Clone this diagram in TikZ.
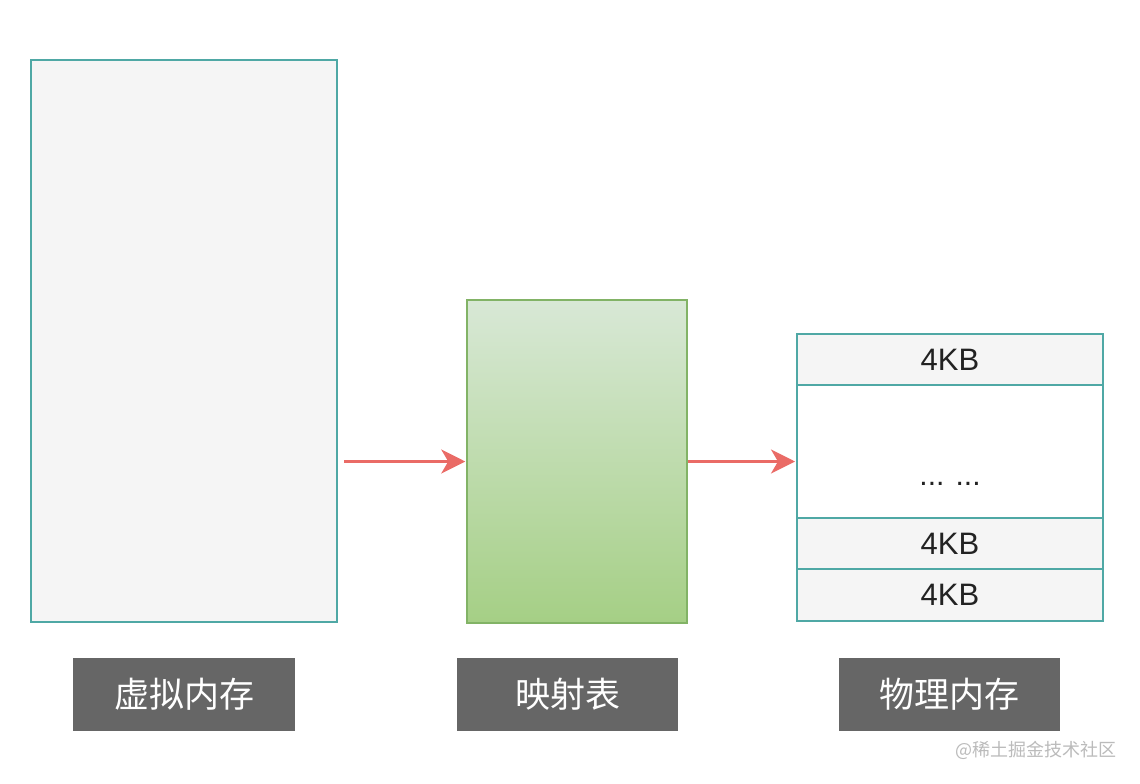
\documentclass[tikz,border=0pt]{standalone}
\usepackage{fontspec}
\setmainfont{Liberation Sans}
\newfontfamily\cjk{Noto Sans CJK SC}
\usetikzlibrary{arrows.meta}
\definecolor{tealline}{HTML}{4FA8A5}
\definecolor{boxfill}{HTML}{F5F5F5}
\definecolor{greenline}{HTML}{82B366}
\definecolor{greentop}{HTML}{D8E8D6}
\definecolor{greenbot}{HTML}{A5CF85}
\definecolor{arrowred}{HTML}{EA6B66}
\definecolor{labelgray}{HTML}{666666}
\definecolor{marktext}{HTML}{BBBBBB}
\definecolor{txt}{HTML}{222222}
\tikzset{
  membox/.style={draw=tealline, line width=2pt, fill=boxfill, inner sep=0pt, minimum width=306pt},
  rowbox/.style={membox, font=\fontsize{31}{31}\selectfont, text=txt},
  labelbox/.style={fill=labelgray, inner sep=0pt, minimum height=73pt, text=white, font=\cjk\fontsize{35}{35}\selectfont},
  conn/.style={draw=arrowred, line width=2.5pt, -{Stealth[length=24pt,width=24pt,inset=7pt]}},
}
\begin{document}
\begin{tikzpicture}[x=1pt,y=-1pt]
\useasboundingbox (0,0) rectangle (1140,784);
\fill[white] (0,0) rectangle (1140,784);
% virtual memory
\node[membox, minimum height=562pt] (vm) at (184,341) {};
% mapping table
\node[draw=greenline, line width=1.5pt, top color=greentop, bottom color=greenbot, inner sep=0pt, minimum width=220pt, minimum height=323pt] (mt) at (577,461.5) {};
% physical memory
\node[rowbox, minimum height=51pt] (r1) at (950,359.5) {4KB};
\node[membox, fill=white, minimum height=133pt] (r2) at (950,451.5) {};
\node[rowbox, minimum height=51pt] (r3) at (950,543.5) {4KB};
\node[rowbox, minimum height=52pt] (r4) at (950,595) {4KB};
\node[font=\fontsize{30}{30}\selectfont, text=txt, inner sep=0pt] (dots) at (950,484) {... ...};
% arrows
\draw[conn, shorten <=6pt, shorten >=1pt] (vm.east |- mt.west) -- (mt.west);
\draw[conn, shorten >=1pt] (mt.east) -- (mt.east -| r2.west);
% labels
\node[labelbox, minimum width=222pt] (l1) at (184,694.5) {虚拟内存};
\node[labelbox, minimum width=221pt] (l2) at (567.5,694.5) {映射表};
\node[labelbox, minimum width=221pt] (l3) at (949.5,694.5) {物理内存};
% watermark
\node[font=\cjk\fontsize{18}{18}\selectfont, text=marktext, inner sep=0pt] (wm) at (1036,750) {@稀土掘金技术社区};
\end{tikzpicture}
\end{document}
